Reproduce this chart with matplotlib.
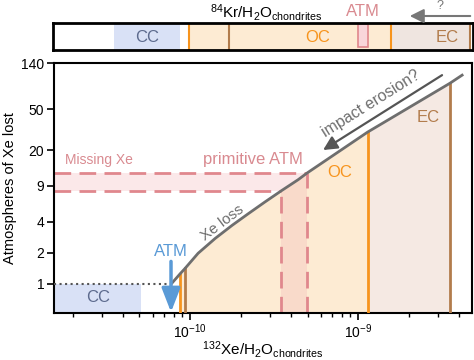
import numpy as np
import matplotlib
matplotlib.use("Agg")
import matplotlib.pyplot as plt
from matplotlib.ticker import NullLocator, NullFormatter, LogFormatterSciNotation
from matplotlib.patches import Rectangle, FancyArrowPatch

plt.rcParams['font.family'] = ['Liberation Sans', 'DejaVu Sans']
plt.rcParams['mathtext.fontset'] = 'custom'
plt.rcParams['mathtext.rm'] = 'Liberation Sans'
plt.rcParams['mathtext.it'] = 'Liberation Sans:italic'
plt.rcParams['mathtext.bf'] = 'Liberation Sans:bold'

# Xe loss curve (132Xe/H2O vs atmospheres lost)
curve_x = np.array([7.82e-11, 8.72e-11, 9.33e-11, 1.116e-10, 1.41e-10, 1.778e-10,
                    2.21e-10, 2.79e-10, 3.48e-10, 4.40e-10, 4.97e-10, 1.14e-9,
                    3.53e-9, 4.16e-9])
curve_y = np.array([1.02, 1.25, 1.41, 1.98, 2.76, 3.70,
                    4.78, 6.25, 8.0, 10.3, 11.95, 29.9,
                    89.5, 107])

# chondrite ranges in 132Xe/H2O
cc_range = (1.55e-11, 5.1e-11)
oc_range = (8.72e-11, 1.14e-9)
ec_range = (9.33e-11, 3.53e-9)
atm_x = 7.7e-11
missing_xe = (8.0, 11.95)           # atmospheres lost
primitive_x = (3.48e-10, 4.97e-10)

# top strip (84Kr/H2O, relative position)
strip_cc = (0.145, 0.302)
strip_oc = (0.325, 0.805)
strip_ec = (0.420, 0.995)
strip_atm = (0.727, 0.751)

yticks = [1, 2, 4, 9, 20, 50, 140]
xticks = [1e-10, 1e-9]

c_orange = '#F7941D'
c_brown = '#B27C4C'
c_oc_fill = '#FDEBD3'
c_ec_fill = '#F5E9E3'
c_cc_fill = '#D9E1F6'
c_cc_text = '#5D6B8E'
c_pink = '#E0878D'
c_pink_txt = '#D98A90'
c_blue = '#5A9AD6'
c_gray = '#6E6E6E'


def curve_at(x0):
    i = int(np.argmin(np.abs(curve_x - x0)))
    return curve_y[i]


fig = plt.figure(figsize=(4.74, 3.6), dpi=100)
ax = fig.add_axes([0.114, 0.1306, 0.882, 0.694])
ax.set_xscale('log')
ax.set_yscale('log')
xmin, xmax = 1.55e-11, 4.77e-9
ymin, ymax = 0.52, 140
ax.set_xlim(xmin, xmax)
ax.set_ylim(ymin, ymax)

# fills under curve
sel = (curve_x >= ec_range[0]) & (curve_x <= ec_range[1])
ax.fill_between(curve_x[sel], ymin, curve_y[sel], color=c_ec_fill, lw=0, zorder=1)
sel = (curve_x >= oc_range[0]) & (curve_x <= oc_range[1])
ax.fill_between(curve_x[sel], ymin, curve_y[sel], color=c_oc_fill, lw=0, zorder=1.1)

# CC box
ax.fill_between(cc_range, ymin, 1, color=c_cc_fill, lw=0, zorder=1)
ax.text(2.84e-11, 0.73, 'CC', color=c_cc_text, fontsize=12, ha='center', va='center')

# missing Xe band
ax.fill_between([xmin, primitive_x[0]], missing_xe[0], missing_xe[1],
                color='#F2B3B8', alpha=0.3, lw=0, zorder=1.5)
ax.fill_between(primitive_x, ymin, missing_xe[1],
                color='#F2B3B8', alpha=0.3, lw=0, zorder=1.5)
dash = dict(color=c_pink, lw=2, dashes=(6, 3), zorder=2)
ax.plot([xmin, primitive_x[1]], [missing_xe[1], missing_xe[1]], **dash)
ax.plot([xmin, primitive_x[0]], [missing_xe[0], missing_xe[0]], **dash)
ax.plot([primitive_x[1], primitive_x[1]], [ymin, missing_xe[1]], **dash)
ax.plot([primitive_x[0], primitive_x[0]], [ymin, missing_xe[0]], **dash)

# vertical chondrite lines
ax.plot([oc_range[0]] * 2, [ymin, curve_at(oc_range[0])], color=c_orange, lw=2, zorder=3)
ax.plot([ec_range[0]] * 2, [ymin, curve_at(ec_range[0])], color=c_brown, lw=2, zorder=3)
ax.plot([oc_range[1]] * 2, [ymin, curve_at(oc_range[1])], color=c_orange, lw=2, zorder=3)
ax.plot([ec_range[1]] * 2, [ymin, curve_at(ec_range[1])], color=c_brown, lw=2, zorder=3)

# curve
ax.plot(curve_x, curve_y, color=c_gray, lw=2, zorder=4)
ax.plot([xmin, curve_x[0]], [1, 1], color='#555555', ls=':', lw=1.5, zorder=3)

# ATM arrow
ax.annotate('', xy=(atm_x, 0.53), xytext=(atm_x, 1.65),
            arrowprops=dict(arrowstyle='-|>,head_length=0.9,head_width=0.35',
                            color=c_blue, lw=2.5, mutation_scale=16,
                            shrinkA=0, shrinkB=0), zorder=5)
ax.text(atm_x, 2.05, 'ATM', color=c_blue, fontsize=12, ha='center', va='center')

# impact erosion arrow
ax.annotate('', xy=(6.19e-10, 20), xytext=(3.16e-9, 107),
            arrowprops=dict(arrowstyle='-|>,head_length=0.6,head_width=0.3',
                            color='#555555', lw=1.6, mutation_scale=14,
                            shrinkA=0, shrinkB=0), zorder=5)
ax.text(1.2e-9, 57, 'impact erosion?', color=c_gray, fontsize=11.5,
        rotation=32, ha='center', va='center', rotation_mode='anchor')
ax.text(1.55e-10, 3.9, 'Xe loss', color=c_gray, fontsize=11,
        rotation=37, ha='center', va='center', rotation_mode='anchor')

ax.text(2.88e-11, 16, 'Missing Xe', color=c_pink_txt, fontsize=10, ha='center', va='center')
ax.text(2.37e-10, 16, 'primitive ATM', color=c_pink_txt, fontsize=12, ha='center', va='center')
ax.text(7.82e-10, 12.2, 'OC', color=c_orange, fontsize=12, ha='center', va='center')
ax.text(2.61e-9, 41.8, 'EC', color=c_brown, fontsize=12, ha='center', va='center')

ax.set_xticks(xticks)
ax.xaxis.set_major_formatter(LogFormatterSciNotation())
ax.set_yticks(yticks)
ax.set_yticklabels([str(v) for v in yticks])
ax.yaxis.set_minor_locator(NullLocator())
ax.xaxis.set_minor_formatter(NullFormatter())
ax.tick_params(which='major', direction='out', length=5, width=1.2, labelsize=10, pad=2)
ax.tick_params(which='minor', direction='out', length=3, width=1)
for s in ax.spines.values():
    s.set_linewidth(1.5)
ax.set_ylabel('Atmospheres of Xe lost', fontsize=10.5, labelpad=3)
ax.set_xlabel(r'$^{132}$Xe/H$_2$O$_{\rm chondrites}$', fontsize=11, labelpad=-2)

# top strip
ax2 = fig.add_axes([0.112, 0.861, 0.885, 0.075])
ax2.set_xlim(0, 1)
ax2.set_ylim(0, 1)
ax2.set_xticks([])
ax2.set_yticks([])
ax2.axvspan(*strip_cc, color=c_cc_fill, lw=0)
ax2.axvspan(*strip_ec, color='#EFE5E0', lw=0)
ax2.axvspan(strip_oc[0], strip_oc[1], color=c_oc_fill, lw=0)
for xv in strip_oc:
    ax2.axvline(xv, color=c_orange, lw=1.5)
for xv in strip_ec:
    ax2.axvline(xv, color=c_brown, lw=1.5)
ax2.add_patch(Rectangle((strip_atm[0], 0.1), strip_atm[1] - strip_atm[0], 0.85,
                        facecolor='#F9D6DA', edgecolor=c_pink, lw=1.2))
ax2.text(0.225, 0.48, 'CC', color=c_cc_text, fontsize=12, ha='center', va='center')
ax2.text(0.63, 0.48, 'OC', color=c_orange, fontsize=12, ha='center', va='center')
ax2.text(0.94, 0.48, 'EC', color=c_brown, fontsize=12, ha='center', va='center')
for s in ax2.spines.values():
    s.set_linewidth(2)

fig.text(266 / 474, 1 - 12 / 360, r'$^{84}$Kr/H$_2$O$_{\rm chondrites}$',
         fontsize=11, ha='center', va='center')
fig.text(363 / 474, 1 - 12 / 360, 'ATM', color=c_pink_txt, fontsize=12,
         ha='center', va='center')
fig.text(440 / 474, 1 - 6 / 360, '?', color='#777777', fontsize=9,
         ha='center', va='center')
fig.patches.append(FancyArrowPatch(
    (473 / 474, 1 - 16 / 360), (407 / 474, 1 - 16 / 360),
    transform=fig.transFigure, arrowstyle='-|>,head_length=0.6,head_width=0.3',
    color='#777777', lw=1.5, mutation_scale=14))

fig.savefig('out.png', dpi=100)
